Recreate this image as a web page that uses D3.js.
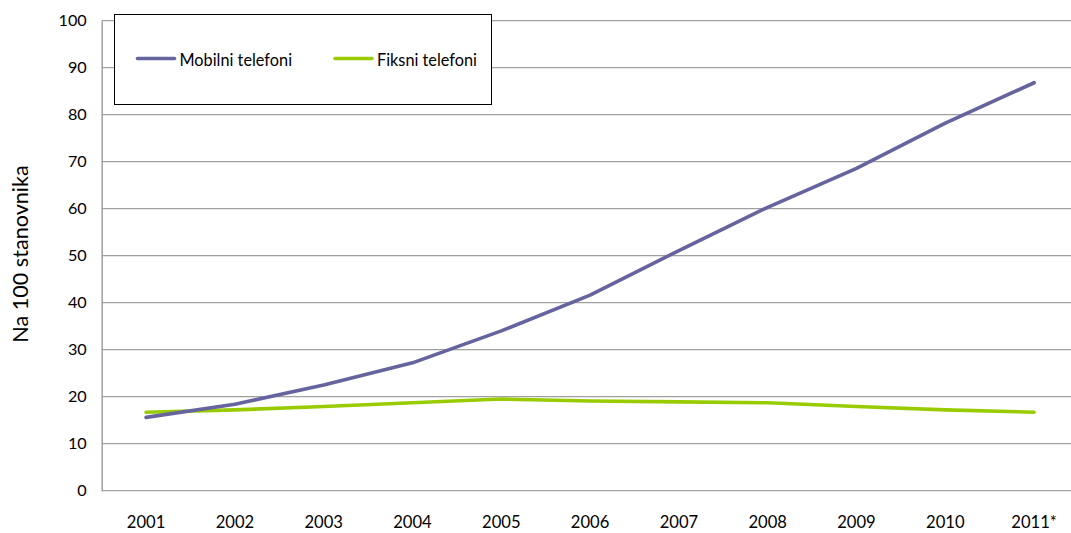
<!DOCTYPE html>
<html><head><meta charset="utf-8">
<script src="https://cdn.jsdelivr.net/npm/d3@7"></script>
<style>
html,body{margin:0;padding:0;background:#fff;}
svg{display:block;}
text{font-family:Lato,"Open Sans",sans-serif;fill:#000;}
</style></head><body>
<svg id="c" width="1071" height="533"></svg>
<script>
const categories = ["2001","2002","2003","2004","2005","2006","2007","2008","2009","2010","2011*"];
const mobilni = [15.6,18.4,22.5,27.2,34.0,41.6,51.1,60.3,68.6,78.2,86.8];
const fiksni = [16.7,17.2,17.9,18.7,19.5,19.1,18.9,18.7,17.9,17.2,16.7];
const yTicks = [0,10,20,30,40,50,60,70,80,90,100];
const seriesNames = ["Mobilni telefoni","Fiksni telefoni"];
const colors = ["#65649F","#99CC00"];

const svg = d3.select("#c");
const pLeft = 101.7, pRight = 1078.5, pTop = 20.7, pBottom = 490.7;

const x = d3.scaleBand().domain(categories).range([pLeft,pRight]);
const y = d3.scaleLinear().domain([0,100]).range([pBottom,pTop]);

// gridlines
svg.append("g").selectAll("line").data(yTicks).join("line")
  .attr("x1",pLeft).attr("x2",pRight)
  .attr("y1",d=>y(d)).attr("y2",d=>y(d))
  .attr("stroke",d=>d===0?"#A6A6A6":"#A0A0A0").attr("stroke-width",1.3);

// y axis
const ya = svg.append("g").attr("transform",`translate(${pLeft},0)`)
  .call(d3.axisLeft(y).tickValues(yTicks).tickSize(0).tickPadding(15));
ya.select(".domain").attr("stroke","#A0A0A0").attr("stroke-width",1.5);
ya.selectAll("text").attr("font-size",16.2).style("font-family","Lato,'Open Sans',sans-serif");

// x axis
const xa = svg.append("g").attr("transform",`translate(0,${pBottom})`)
  .call(d3.axisBottom(x).tickSize(0).tickPadding(26));
xa.select(".domain").remove();
xa.selectAll("text").attr("font-size",16.6).style("font-family","Lato,'Open Sans',sans-serif");

// y title
svg.append("text").attr("transform","translate(27.5,254) rotate(-90)")
  .attr("text-anchor","middle").attr("font-size",21.6).text("Na 100 stanovnika");

const line = d3.line().x((d,i)=>x(categories[i])+x.bandwidth()/2).y(d=>y(d));
[[fiksni,1],[mobilni,0]].forEach(([s,idx])=>{
  svg.append("path").datum(s).attr("d",line)
    .attr("fill","none").attr("stroke",colors[idx]).attr("stroke-width",3.6)
    .attr("stroke-linecap","round").attr("stroke-linejoin","round");
});

// legend
const lg = svg.append("g");
lg.append("rect").attr("x",114.5).attr("y",14.5).attr("width",377).attr("height",90)
  .attr("fill","#fff").attr("stroke","#000").attr("stroke-width",1);
const legX = [137.5,335];
seriesNames.forEach((n,i)=>{
  lg.append("line").attr("x1",legX[i]).attr("x2",legX[i]+37).attr("y1",58.5).attr("y2",58.5)
    .attr("stroke",colors[i]).attr("stroke-width",3.6).attr("stroke-linecap","round");
  lg.append("text").attr("x",legX[i]+42).attr("y",66.3).attr("font-size",16.3).text(n);
});
</script></body></html>
